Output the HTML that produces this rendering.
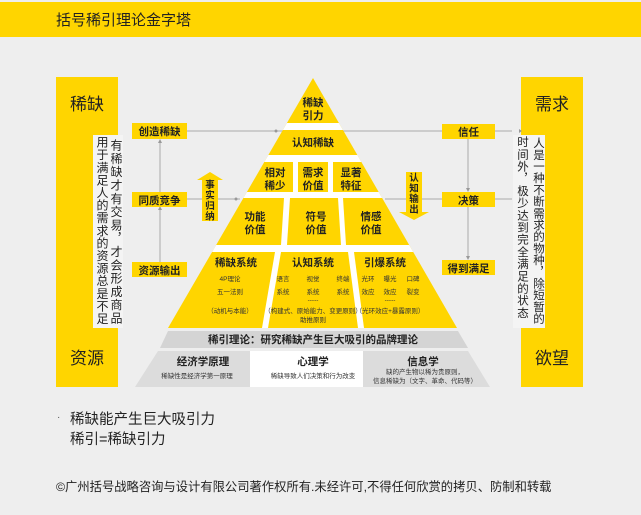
<!DOCTYPE html>
<html><head><meta charset="utf-8"><style>
body{margin:0;width:641px;height:515px;background:#eeeeee;overflow:hidden;font-family:"Liberation Sans","Noto Sans CJK SC",sans-serif;position:relative;}
svg text{font-family:"Liberation Sans","Noto Sans CJK SC",sans-serif;}
.col{position:absolute;writing-mode:vertical-rl;white-space:nowrap;color:#222;line-height:14px;}
</style></head><body>
<svg width="641" height="515" viewBox="0 0 641 515" xmlns="http://www.w3.org/2000/svg" style="position:absolute;left:0;top:0">
<defs><clipPath id="pc"><polygon points="313,78 457,328 168,328"/></clipPath></defs>
<rect x="0" y="0" width="641" height="515" fill="#eeeeee"/>
<rect x="0" y="2" width="641" height="35" fill="#ffd500"/>
<text x="56" y="25" font-size="15" fill="#222">括号稀引理论金字塔</text>

<rect x="56" y="77" width="62" height="310" fill="#ffd500"/>
<rect x="521" y="77" width="62" height="310" fill="#ffd500"/>
<text x="87" y="110" font-size="17" text-anchor="middle" fill="#222">稀缺</text>
<text x="87" y="364" font-size="17" text-anchor="middle" fill="#222">资源</text>
<text x="552" y="110" font-size="17" text-anchor="middle" fill="#222">需求</text>
<text x="552" y="364" font-size="17" text-anchor="middle" fill="#222">欲望</text>
<rect x="93" y="135" width="30" height="193" fill="#f4f4f4"/>
<rect x="513" y="135" width="32" height="193" fill="#f4f4f4"/>

<g stroke="#aaa" stroke-width="1" fill="none">
<line x1="187" y1="131" x2="290" y2="131"/>
<line x1="340" y1="131" x2="442" y2="131"/>
<line x1="495" y1="131" x2="512" y2="131"/>
<line x1="187" y1="199" x2="240" y2="199"/>
<line x1="385" y1="199" x2="442" y2="199"/>
<line x1="495" y1="199" x2="512" y2="199"/>
<line x1="160" y1="141" x2="160" y2="192"/>
<line x1="160" y1="208" x2="160" y2="262"/>
<line x1="468" y1="139" x2="468" y2="190"/>
<line x1="468" y1="207" x2="468" y2="258"/>
</g>
<g fill="#999">
<polygon points="519,129 522,131 519,133"/>
<polygon points="519,197 522,199 519,201"/>
<polygon points="158,143 160,139 162,143"/>
<polygon points="158,210 160,206 162,210"/>
<polygon points="466,188 468,192 470,188"/>
<polygon points="466,256 468,260 470,256"/>
<circle cx="276" cy="131" r="1.5"/>
<circle cx="236" cy="199" r="1.5"/>
</g>

<g fill="#ffd500">
<rect x="132" y="123" width="55" height="16"/>
<rect x="132" y="192" width="55" height="15"/>
<rect x="132" y="262" width="55" height="15"/>
<rect x="442" y="124" width="53" height="15"/>
<rect x="442" y="192" width="53" height="15"/>
<rect x="442" y="260" width="53" height="15"/>
</g>
<g font-size="10.5" font-weight="bold" fill="#222" text-anchor="middle">
<text x="159.5" y="135">创造稀缺</text>
<text x="159.5" y="204">同质竞争</text>
<text x="159.5" y="274">资源输出</text>
<text x="468.5" y="135.5">信任</text>
<text x="468.5" y="204">决策</text>
<text x="468.5" y="272">得到满足</text>
</g>

<polygon points="210,172 223,180 218,180 218,221 202,221 202,180 197,180" fill="#ffd500"/>
<polygon points="406,172 422,172 422,212 429,212 414,220 399,212 406,212" fill="#ffd500"/>
<g font-size="9.5" font-weight="bold" fill="#222" text-anchor="middle">
<text x="210" y="188">事</text><text x="210" y="198.5">实</text><text x="210" y="209">归</text><text x="210" y="219.5">纳</text>
<text x="414" y="181">认</text><text x="414" y="191.5">知</text><text x="414" y="202">输</text><text x="414" y="212.5">出</text>
</g>

<polygon points="313,78 457,328 168,328" fill="#ffd500"/>
<g fill="#fff" clip-path="url(#pc)">
<rect x="160" y="123" width="310" height="7"/>
<rect x="160" y="155" width="310" height="7"/>
<rect x="160" y="192" width="310" height="6"/>
<rect x="160" y="245" width="310" height="7"/>
<rect x="293" y="162" width="5" height="30"/>
<rect x="328" y="162" width="5" height="30"/>
<polygon points="284,198 290,198 287,245 281,245"/>
<polygon points="338,198 343,198 346,245 341,245"/>
<polygon points="275,252 281,252 268,328 262,328"/>
<polygon points="348,252 354,252 364,328 358,328"/>
</g>
<g font-size="10.5" font-weight="bold" fill="#222" text-anchor="middle">
<text x="313" y="106">稀缺</text><text x="313" y="119">引力</text>
<text x="313" y="146">认知稀缺</text>
<text x="275" y="176">相对</text><text x="275" y="189">稀少</text>
<text x="313" y="176">需求</text><text x="313" y="189">价值</text>
<text x="351" y="176">显著</text><text x="351" y="189">特征</text>
<text x="255" y="220">功能</text><text x="255" y="233">价值</text>
<text x="316" y="220">符号</text><text x="316" y="233">价值</text>
<text x="371" y="220">情感</text><text x="371" y="233">价值</text>
<text x="236" y="266">稀缺系统</text>
<text x="313" y="266">认知系统</text>
<text x="385" y="266">引爆系统</text>
</g>
<g font-size="6.5" fill="#333" text-anchor="middle">
<text x="230" y="281">4P理论</text>
<text x="230" y="294">五一法则</text>
<text x="230" y="313">（动机与本能）</text>
<text x="283" y="281">语言</text><text x="313" y="281">视觉</text><text x="343" y="281">终端</text>
<text x="283" y="294">系统</text><text x="313" y="294">系统</text><text x="343" y="294">系统</text>
<text x="313" y="302">-----</text>
<text x="313" y="313">（构建式、原始能力、变更原则）</text>
<text x="313" y="322">助推原则</text>
<text x="368" y="281">光环</text><text x="390" y="281">曝光</text><text x="413" y="281">口碑</text>
<text x="368" y="294">效应</text><text x="390" y="294">效应</text><text x="413" y="294">裂变</text>
<text x="390" y="302">-----</text>
<text x="390" y="313">（光环效应+暴露原则）</text>
</g>

<polygon points="168,331 458,331 468,348 160,348" fill="#d4d4d4"/>
<text x="313" y="343" font-size="10.5" font-weight="bold" fill="#222" text-anchor="middle">稀引理论：研究稀缺产生巨大吸引的品牌理论</text>
<polygon points="158,351 250,351 250,387 135,387" fill="#dcdcdc"/>
<rect x="250" y="351" width="113" height="36" fill="#fff"/>
<polygon points="363,351 468,351 490,387 363,387" fill="#dcdcdc"/>
<g font-size="10.5" font-weight="bold" fill="#222" text-anchor="middle">
<text x="203" y="365">经济学原理</text>
<text x="313" y="365">心理学</text>
<text x="423" y="365">信息学</text>
</g>
<g font-size="6.5" fill="#333" text-anchor="middle">
<text x="197" y="378">稀缺性是经济学第一原理</text>
<text x="313" y="378">稀缺导致人们决策和行为改变</text>
<text x="425" y="374">缺的产生物以稀为贵原则，</text>
<text x="425" y="383">信息稀缺为（文字、革命、代码等）</text>
</g>

<text x="57" y="420" font-size="10" fill="#555">·</text>
<text x="70" y="424" font-size="14.5" fill="#222">稀缺能产生巨大吸引力</text>
<text x="70" y="444" font-size="14.5" fill="#222">稀引=稀缺引力</text>
<text x="56" y="491" font-size="12.3" fill="#222">©广州括号战略咨询与设计有限公司著作权所有.未经许可,不得任何欣赏的拷贝、防制和转载</text>
</svg>
<div class="col" style="left:109px;top:139px;font-size:12px;letter-spacing:1.3px;">有稀缺才有交易，才会形成商品</div>
<div class="col" style="left:95px;top:136px;font-size:12px;letter-spacing:0.6px;">用于满足人的需求的资源总是不足</div>
<div class="col" style="left:531px;top:137px;font-size:11.5px;letter-spacing:0.2px;">人是一种不断需求的物种，除短暂的</div>
<div class="col" style="left:515px;top:136px;font-size:11.5px;letter-spacing:0.7px;">时间外，极少达到完全满足的状态</div>
</body></html>
